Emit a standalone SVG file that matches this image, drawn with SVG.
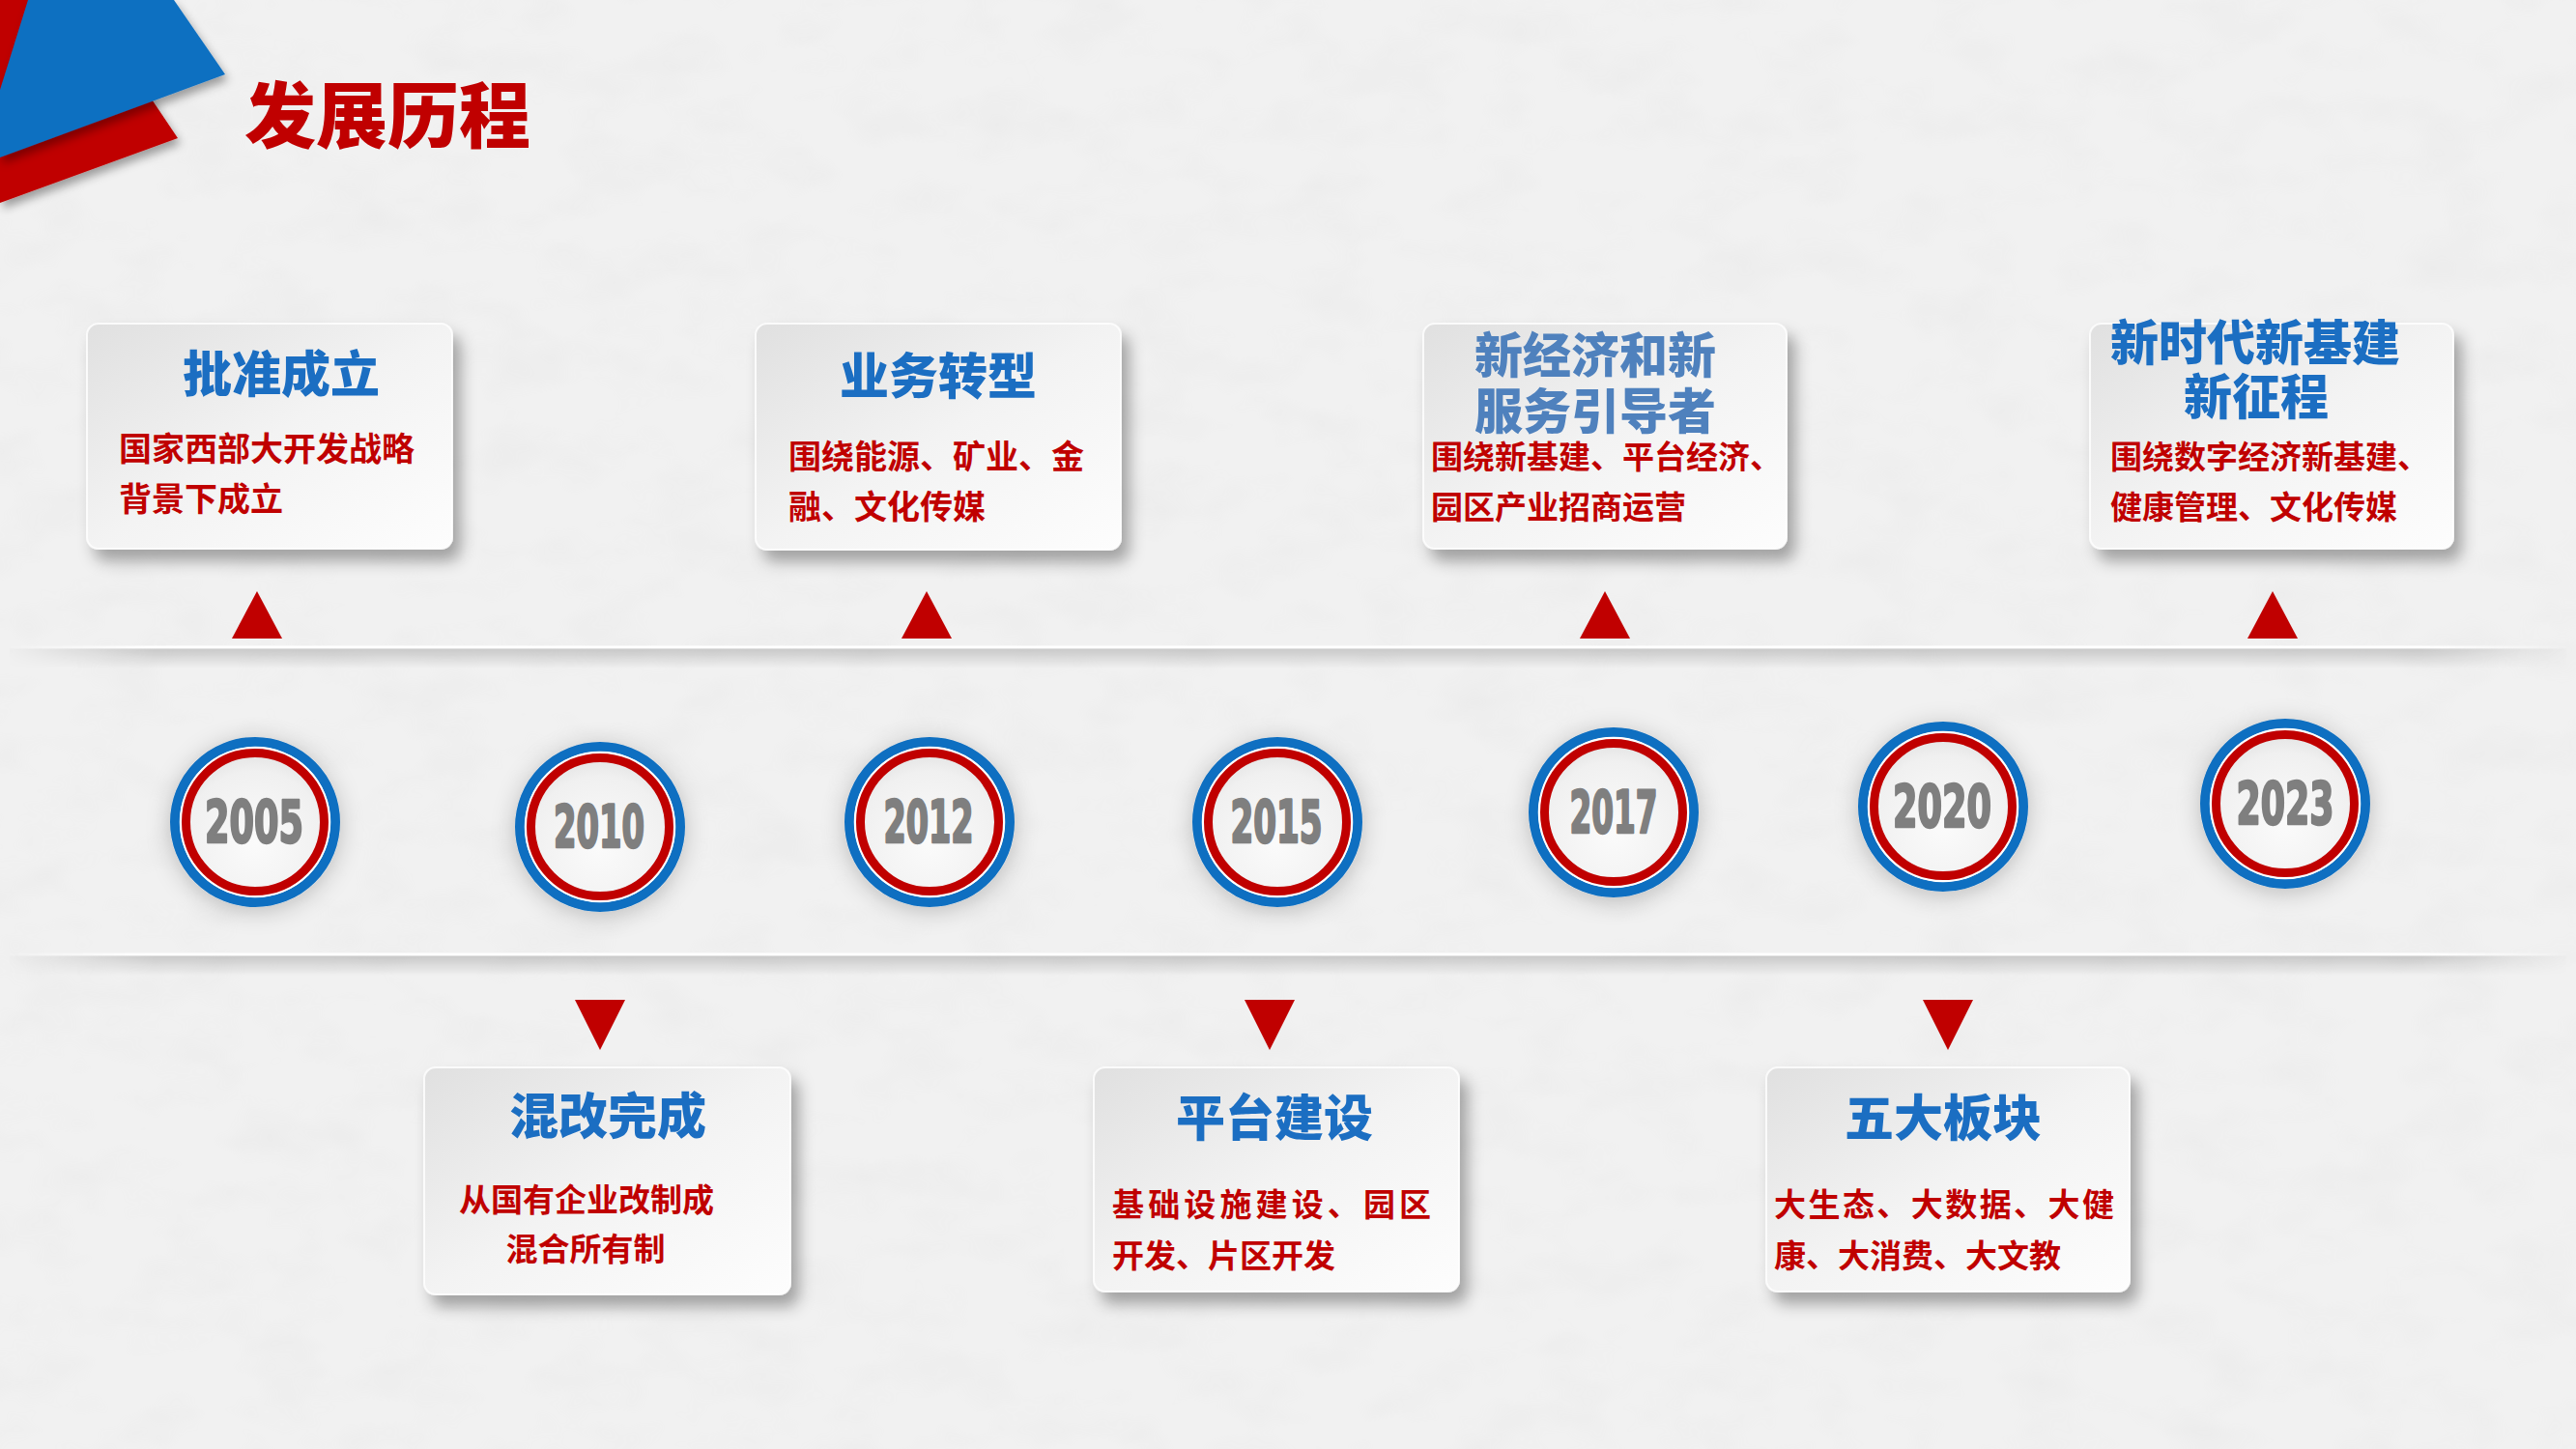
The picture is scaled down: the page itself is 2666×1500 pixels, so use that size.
<svg xmlns="http://www.w3.org/2000/svg" width="2666" height="1500" viewBox="0 0 2666 1500">
<defs>
<style>
.bg{fill:#F1F1F1}
.cardbox{fill:url(#cardGrad);stroke:#FFFFFF;stroke-opacity:0.8;stroke-width:2;filter:url(#cardShadow)}
.ttl{font-family:'Noto Sans CJK SC','Noto Sans CJK TC',sans-serif;font-weight:900;font-size:51px;fill:#1B6EC2;text-anchor:middle}
.ttl2{fill:#4F81BD}
.tsm{font-size:50px}
.body{font-family:'Noto Sans CJK SC','Noto Sans CJK TC',sans-serif;font-weight:700;font-size:33px;fill:#C00000}
.b34{font-size:34px}
.mid{text-anchor:middle}
.year{font-family:'Liberation Sans Narrow','DejaVu Sans Condensed','Liberation Sans',sans-serif;font-weight:700;font-size:60px;fill:#7F7F7F;stroke:#7F7F7F;stroke-width:2.4;stroke-linejoin:round;text-anchor:middle}
.ringB{fill:none;stroke:#0E6FC1;stroke-width:10}
.ringW{fill:none;stroke:#FFFFFF;stroke-width:2.5}
.ringR{fill:none;stroke:#C00000;stroke-width:9}
.disc{fill:url(#discGrad);filter:url(#discShadow)}
.tri{fill:#C00000}
.hdr{font-family:'Noto Sans CJK SC','Noto Sans CJK TC',sans-serif;font-weight:900;font-size:74px;fill:#C00000}
</style>
<linearGradient id="cardGrad" x1="0" y1="0" x2="1" y2="1">
<stop offset="0" stop-color="#E0E0E0"/>
<stop offset="0.5" stop-color="#F3F3F3"/>
<stop offset="1" stop-color="#FDFDFD"/>
</linearGradient>
<radialGradient id="discGrad" cx="0.5" cy="0.62" r="0.6">
<stop offset="0" stop-color="#FBFBFB"/>
<stop offset="0.7" stop-color="#F0F0F0"/>
<stop offset="1" stop-color="#DCDCDC"/>
</radialGradient>
<radialGradient id="bgGrad" cx="0.5" cy="0.5" r="0.7">
<stop offset="0" stop-color="#F6F6F6"/>
<stop offset="1" stop-color="#EDEDED"/>
</radialGradient>
<linearGradient id="lineShadow" x1="0" y1="0" x2="0" y2="1">
<stop offset="0" stop-color="#000" stop-opacity="0.16"/>
<stop offset="1" stop-color="#000" stop-opacity="0"/>
</linearGradient>
<linearGradient id="fadeH" x1="0" y1="0" x2="1" y2="0">
<stop offset="0" stop-color="#fff" stop-opacity="0"/>
<stop offset="0.06" stop-color="#fff" stop-opacity="1"/>
<stop offset="0.94" stop-color="#fff" stop-opacity="1"/>
<stop offset="1" stop-color="#fff" stop-opacity="0"/>
</linearGradient>
<mask id="fadeMask" maskUnits="userSpaceOnUse" x="0" y="0" width="2666" height="1500">
<rect x="0" y="0" width="2666" height="1500" fill="url(#fadeH)"/>
</mask>
<filter id="cardShadow" x="-10%" y="-10%" width="125%" height="130%">
<feDropShadow dx="8" dy="12" stdDeviation="8" flood-color="#000" flood-opacity="0.33"/>
</filter>
<filter id="discShadow" x="-30%" y="-30%" width="160%" height="160%">
<feDropShadow dx="0" dy="4" stdDeviation="12" flood-color="#000" flood-opacity="0.22"/>
</filter>
<filter id="decoShadow" x="-20%" y="-20%" width="150%" height="150%">
<feDropShadow dx="3" dy="6" stdDeviation="5" flood-color="#000" flood-opacity="0.35"/>
</filter>
<filter id="paper" x="0" y="0" width="100%" height="100%">
<feTurbulence type="fractalNoise" baseFrequency="0.012 0.02" numOctaves="3" seed="7"/>
<feColorMatrix type="matrix" values="0 0 0 0 0.5  0 0 0 0 0.5  0 0 0 0 0.5  0 0 0 1.4 -0.62"/>
</filter>
</defs>

<g id="background">
<rect class="bg" x="0" y="0" width="2666" height="1500" fill="url(#bgGrad)"/>
<rect x="0" y="0" width="2666" height="1500" filter="url(#paper)" opacity="0.12"/>
</g>

<g id="corner-decoration">
<polygon points="0,0 34,0 0,100" fill="#C00000" filter="url(#decoShadow)"/>
<polygon points="0,120 145,85 184,143 0,210" fill="#C00000" filter="url(#decoShadow)"/>
<polygon points="29,0 180,0 233,77 0,163 0,93" fill="#0E6FC1" filter="url(#decoShadow)"/>
</g>

<g id="page-title">
<text class="hdr" x="253" y="147">发展历程</text>
</g>

<g id="connectors">
<g mask="url(#fadeMask)">
<rect x="10" y="672" width="2646" height="20" fill="url(#lineShadow)"/>
<rect x="10" y="668.5" width="2646" height="3" fill="#FFFFFF"/>
<rect x="10" y="671.5" width="2646" height="1.5" fill="#CCCCCC"/>
<rect x="10" y="990" width="2646" height="20" fill="url(#lineShadow)"/>
<rect x="10" y="986.5" width="2646" height="3" fill="#FFFFFF"/>
<rect x="10" y="989.5" width="2646" height="1.5" fill="#CCCCCC"/>
</g>
<polygon class="tri" points="240,661 292,661 266,612"/>
<polygon class="tri" points="933,661 985,661 959,612"/>
<polygon class="tri" points="1635,661 1687,661 1661,612"/>
<polygon class="tri" points="2326,661 2378,661 2352,612"/>
<polygon class="tri" points="595,1035 647,1035 621,1087"/>
<polygon class="tri" points="1288,1035 1340,1035 1314,1087"/>
<polygon class="tri" points="1990,1035 2042,1035 2016,1087"/>
</g>

<g id="year-2005">
<circle class="disc" cx="264" cy="851" r="88"/>
<circle class="ringB" cx="264" cy="851" r="83"/>
<circle class="ringW" cx="264" cy="851" r="77"/>
<circle class="ringR" cx="264" cy="851" r="71.5"/>
<text class="year" x="263" y="872" textLength="102" lengthAdjust="spacingAndGlyphs">2005</text>
</g>
<g id="year-2010">
<circle class="disc" cx="621" cy="856" r="88"/>
<circle class="ringB" cx="621" cy="856" r="83"/>
<circle class="ringW" cx="621" cy="856" r="77"/>
<circle class="ringR" cx="621" cy="856" r="71.5"/>
<text class="year" x="620" y="877" textLength="94" lengthAdjust="spacingAndGlyphs">2010</text>
</g>
<g id="year-2012">
<circle class="disc" cx="962" cy="851" r="88"/>
<circle class="ringB" cx="962" cy="851" r="83"/>
<circle class="ringW" cx="962" cy="851" r="77"/>
<circle class="ringR" cx="962" cy="851" r="71.5"/>
<text class="year" x="961" y="872" textLength="93" lengthAdjust="spacingAndGlyphs">2012</text>
</g>
<g id="year-2015">
<circle class="disc" cx="1322" cy="851" r="88"/>
<circle class="ringB" cx="1322" cy="851" r="83"/>
<circle class="ringW" cx="1322" cy="851" r="77"/>
<circle class="ringR" cx="1322" cy="851" r="71.5"/>
<text class="year" x="1321" y="872" textLength="95" lengthAdjust="spacingAndGlyphs">2015</text>
</g>
<g id="year-2017">
<circle class="disc" cx="1670" cy="841" r="88"/>
<circle class="ringB" cx="1670" cy="841" r="83"/>
<circle class="ringW" cx="1670" cy="841" r="77"/>
<circle class="ringR" cx="1670" cy="841" r="71.5"/>
<text class="year" x="1670" y="862" textLength="91" lengthAdjust="spacingAndGlyphs">2017</text>
</g>
<g id="year-2020">
<circle class="disc" cx="2011" cy="835" r="88"/>
<circle class="ringB" cx="2011" cy="835" r="83"/>
<circle class="ringW" cx="2011" cy="835" r="77"/>
<circle class="ringR" cx="2011" cy="835" r="71.5"/>
<text class="year" x="2010" y="856" textLength="102" lengthAdjust="spacingAndGlyphs">2020</text>
</g>
<g id="year-2023">
<circle class="disc" cx="2365" cy="832" r="88"/>
<circle class="ringB" cx="2365" cy="832" r="83"/>
<circle class="ringW" cx="2365" cy="832" r="77"/>
<circle class="ringR" cx="2365" cy="832" r="71.5"/>
<text class="year" x="2365" y="853" textLength="101" lengthAdjust="spacingAndGlyphs">2023</text>
</g>

<g id="card-2005">
<rect class="cardbox" x="90" y="335" width="378" height="233" rx="12"/>
<text class="ttl" x="291" y="406">批准成立</text>
<text class="body b34" x="123" y="477">国家西部大开发战略</text>
<text class="body b34" x="123" y="529">背景下成立</text>
</g>
<g id="card-2012">
<rect class="cardbox" x="782" y="335" width="378" height="234" rx="12"/>
<text class="ttl" x="971" y="408">业务转型</text>
<text class="body b34" x="816" y="485">围绕能源、矿业、金</text>
<text class="body b34" x="816" y="537">融、文化传媒</text>
</g>
<g id="card-2017">
<rect class="cardbox" x="1473" y="335" width="376" height="233" rx="12"/>
<text class="ttl ttl2 tsm" x="1651" y="386">新经济和新</text>
<text class="ttl ttl2 tsm" x="1651" y="444">服务引导者</text>
<text class="body" x="1481" y="485">围绕新基建、平台经济、</text>
<text class="body" x="1481" y="537">园区产业招商运营</text>
</g>
<g id="card-2023">
<rect class="cardbox" x="2163" y="335" width="376" height="233" rx="12"/>
<text class="ttl tsm" x="2334" y="373">新时代新基建</text>
<text class="ttl tsm" x="2335" y="429">新征程</text>
<text class="body" x="2184" y="485">围绕数字经济新基建、</text>
<text class="body" x="2184" y="537">健康管理、文化传媒</text>
</g>
<g id="card-2010">
<rect class="cardbox" x="439" y="1105" width="379" height="235" rx="12"/>
<text class="ttl" x="629" y="1174">混改完成</text>
<text class="body mid" x="607" y="1254">从国有企业改制成</text>
<text class="body mid" x="606" y="1305">混合所有制</text>
</g>
<g id="card-2015">
<rect class="cardbox" x="1132" y="1105" width="378" height="232" rx="12"/>
<text class="ttl" x="1319" y="1176">平台建设</text>
<text class="body" x="1151" y="1259" textLength="330">基础设施建设、园区</text>
<text class="body" x="1151" y="1312">开发、片区开发</text>
</g>
<g id="card-2020">
<rect class="cardbox" x="1828" y="1105" width="376" height="232" rx="12"/>
<text class="ttl" x="2011" y="1176">五大板块</text>
<text class="body" x="1836" y="1259" textLength="352">大生态、大数据、大健</text>
<text class="body" x="1836" y="1312">康、大消费、大文教</text>
</g>
</svg>
